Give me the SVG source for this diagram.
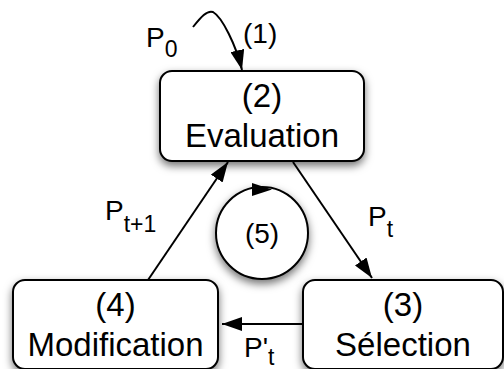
<svg xmlns="http://www.w3.org/2000/svg" width="504" height="369" viewBox="0 0 504 369">
<defs>
<filter id="sh" x="-20%" y="-20%" width="140%" height="150%">
<feDropShadow dx="0" dy="4" stdDeviation="4" flood-color="#000" flood-opacity="0.55"/>
</filter>
<marker id="ah" markerUnits="userSpaceOnUse" markerWidth="20" markerHeight="14" refX="20" refY="7" orient="auto" viewBox="0 0 20 14">
<path d="M0,0 L20,7 L0,14 Z" fill="#000"/>
</marker>
<style>
.box{fill:#fff;stroke:#000;stroke-width:2;filter:url(#sh)}
.t{font-family:"Liberation Sans",Arial,Helvetica,sans-serif;font-size:33px;fill:#000;text-anchor:middle}
.l{font-family:"Liberation Sans",Arial,Helvetica,sans-serif;font-size:28px;fill:#000}
.s{font-size:23px}
.c{fill:none;stroke:#000;stroke-width:2;marker-end:url(#ah)}
</style>
</defs>
<rect width="504" height="369" fill="#fff"/>
<g id="connectors">
<path class="c" d="M193,27 C201,17 207,10 213,12 C222,17 236,45 242,70"/>
<line class="c" x1="293" y1="162" x2="372" y2="278"/>
<line class="c" x1="148" y1="280" x2="228" y2="162"/>
<line class="c" x1="303" y1="324" x2="222" y2="324"/>
</g>
<g id="evaluation">
<rect class="box" x="160" y="71" width="204" height="90" rx="12"/>
<text class="t" x="262" y="107">(2)</text>
<text class="t" x="262" y="147">Evaluation</text>
</g>
<g id="modification">
<rect class="box" x="13" y="280" width="205" height="89" rx="12"/>
<text class="t" x="115.5" y="316">(4)</text>
<text class="t" x="115.5" y="356">Modification</text>
</g>
<g id="selection">
<rect class="box" x="303" y="280" width="200" height="89" rx="12"/>
<text class="t" x="403" y="316">(3)</text>
<text class="t" x="403" y="356">Sélection</text>
</g>
<g id="loop">
<circle class="box" cx="262" cy="233" r="46"/>
<path d="M252,183 L272,189.5 L252,196 Z" fill="#000"/>
<text class="t" x="262" y="243" style="font-size:28px">(5)</text>
</g>
<g id="labels">
<text class="l" x="146" y="47">P<tspan class="s" dy="10">0</tspan></text>
<text class="l" x="243" y="43">(1)</text>
<text class="l" x="105" y="220">P<tspan class="s" dy="12">t+1</tspan></text>
<text class="l" x="368" y="226">P<tspan class="s" dy="11">t</tspan></text>
<text class="l" x="244" y="357">P'<tspan class="s" dy="8">t</tspan></text>
</g>
</svg>
